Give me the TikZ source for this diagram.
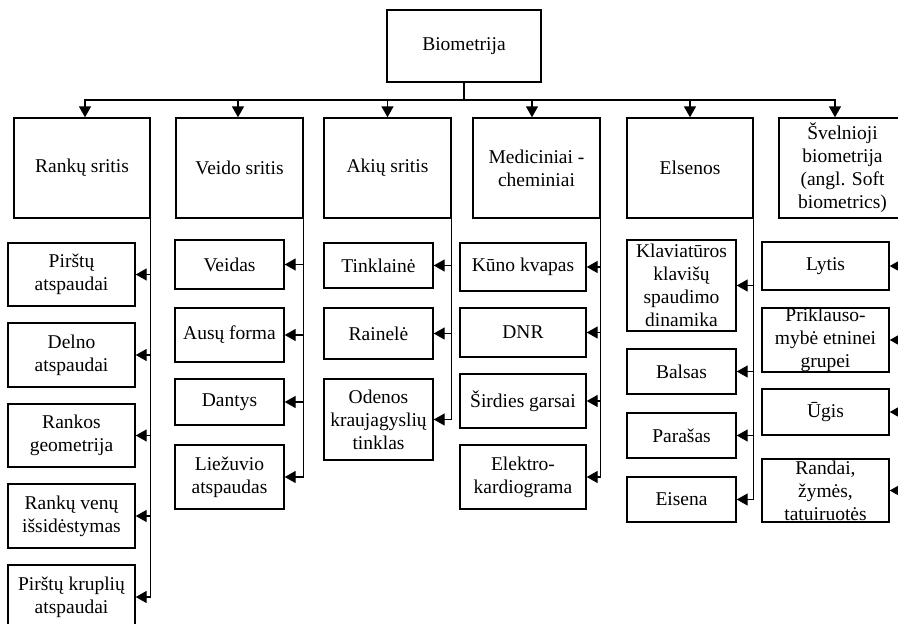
\documentclass[tikz,border=0pt]{standalone}
\usepackage{fontspec}
\setmainfont{Liberation Serif}
\usepackage{tikz}
\usetikzlibrary{positioning,arrows.meta}

\begin{document}
\begin{tikzpicture}[
    x=1pt, y=-1pt,
    box/.style={draw, line width=1.4pt, align=center, inner xsep=2pt, inner ysep=0pt, font={\fontsize{19.5}{23}\selectfont}},
    area/.style={box, minimum width=#1, minimum height=100pt},
    leaf/.style 2 args={box, minimum width=#1, minimum height=#2},
    arrow/.style={-{Triangle[length=11pt,width=12pt]}, line width=1.4pt},
]
\useasboundingbox (0,0) rectangle (898,624);
\fill[white] (0,0) rectangle (898,624);
\clip (0,0) rectangle (898,624);

\node[box, minimum width=154pt, minimum height=72pt] (bio) at (464,46) {Biometrija};
\coordinate (bus) at (464,100);

\node[area=136pt] (rank) at (82,168) {Rankų sritis};
\node[area=127pt] (veid) at (239.5,168) {Veido sritis};
\node[area=127pt] (akiu) at (387.5,168) {Akių sritis};
\node[area=127pt] (med) at (536.5,168) {Mediciniai -\\cheminiai};
\node[area=126pt] (els) at (690,168) {Elsenos};
\node[area=127pt] (soft) at (842.5,168) {Švelnioji\\biometrija\\(angl. Soft\\biometrics)};

\node[leaf={127pt}{63pt}] (r1) at (71.5,274.5) {Pirštų\\atspaudai};
\node[leaf={127pt}{64pt}] (r2) at (71.5,355) {Delno\\atspaudai};
\node[leaf={127pt}{63pt}] (r3) at (71.5,435.5) {Rankos\\geometrija};
\node[leaf={127pt}{64pt}] (r4) at (71.5,516) {Rankų venų\\išsidėstymas};
\node[leaf={127pt}{64pt}] (r5) at (71.5,597) {Pirštų kruplių\\atspaudai};

\node[leaf={109pt}{49pt}] (v1) at (229.5,264.5) {Veidas};
\node[leaf={109pt}{54pt}] (v2) at (229.5,335) {Ausų forma};
\node[leaf={109pt}{46pt}] (v3) at (229.5,402) {Dantys};
\node[leaf={109pt}{64pt}] (v4) at (229.5,477) {Liežuvio\\atspaudas};

\node[leaf={109pt}{45pt}] (a1) at (378.5,265.5) {Tinklainė};
\node[leaf={109pt}{51pt}] (a2) at (378.5,333.5) {Rainelė};
\node[leaf={109pt}{81pt}] (a3) at (378.5,419.5) {Odenos\\kraujagyslių\\tinklas};

\node[leaf={126pt}{48pt}] (m1) at (523,267) {Kūno kvapas};
\node[leaf={126pt}{49pt}] (m2) at (523,332.5) {DNR};
\node[leaf={126pt}{54pt}] (m3) at (523,401) {Širdies garsai};
\node[leaf={126pt}{64pt}] (m4) at (523,477) {Elektro-\\kardiograma};

\node[leaf={109pt}{91pt}] (e1) at (681.5,285.5) {Klaviatūros\\klavišų\\spaudimo\\dinamika};
\node[leaf={109pt}{45pt}] (e2) at (681.5,371.5) {Balsas};
\node[leaf={109pt}{45pt}] (e3) at (681.5,435.5) {Parašas};
\node[leaf={109pt}{45pt}] (e4) at (681.5,499.5) {Eisena};

\node[leaf={127pt}{48pt}] (s1) at (825.5,266) {Lytis};
\node[leaf={127pt}{64pt}] (s2) at (825.5,340) {Priklauso-\\mybė etninei\\grupei};
\node[leaf={127pt}{46pt}] (s3) at (825.5,412) {Ūgis};
\node[leaf={127pt}{63pt}] (s4) at (825.5,490.5) {Randai,\\žymės,\\tatuiruotės};

\draw[line width=1.4pt] (bio.south) -- (bus);
\draw[arrow] (bus) -| ([xshift=3pt]rank.north);
\draw[arrow] (bus) -| ([xshift=-1.5pt]veid.north);
\draw[arrow] (bus) -| (akiu.north);
\draw[arrow] (bus) -| ([xshift=-4.5pt]med.north);
\draw[arrow] (bus) -| (els.north);
\draw[arrow] (bus) -| ([xshift=-7.5pt]soft.north);

\foreach \n in {r1,r2,r3,r4,r5} \draw[arrow] (rank.south east) |- (\n.east);
\foreach \n in {v1,v2,v3,v4} \draw[arrow] (veid.south east) |- (\n.east);
\foreach \n in {a1,a2,a3} \draw[arrow] (akiu.south east) |- (\n.east);
\foreach \n in {m1,m2,m3,m4} \draw[arrow] (med.south east) |- (\n.east);
\foreach \n in {e1,e2,e3,e4} \draw[arrow] (els.south east) |- (\n.east);
\foreach \n in {s1,s2,s3,s4} \draw[arrow] (soft.south east) |- (\n.east);

\end{tikzpicture}
\end{document}
